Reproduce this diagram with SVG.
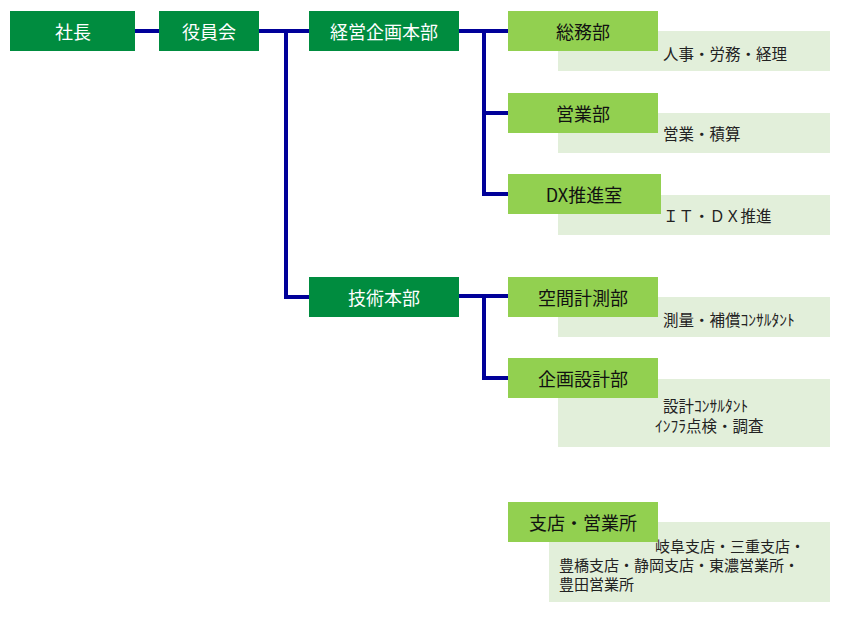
<svg xmlns="http://www.w3.org/2000/svg" width="848" height="621" viewBox="0 0 848 621">
<style>
.dk{fill:#008C3F}
.lt{fill:#92D050}
.ds{fill:#E2EFDA}
.wt{fill:#FFFFFF;font-family:"Noto Sans CJK JP","Noto Sans",sans-serif;font-size:18px;text-anchor:middle;dominant-baseline:central}
.bt{fill:#111111;font-family:"Noto Sans CJK JP","Noto Sans",sans-serif;font-size:18px;text-anchor:middle;dominant-baseline:central}
.tx{fill:#222222;font-family:"Noto Sans CJK JP","Noto Sans",sans-serif;font-size:15.5px;dominant-baseline:central}
.sm{font-size:15px}
.ln{stroke:#000099;stroke-width:4;fill:none}
</style>
<rect width="848" height="621" fill="#FFFFFF"/>
<g id="connectors">
<path class="ln" d="M135 31H159"/>
<path class="ln" d="M259 31H309"/>
<path class="ln" d="M286 31V297H309"/>
<path class="ln" d="M459 31H508"/>
<path class="ln" d="M484 31V194H508"/>
<path class="ln" d="M484 113H508"/>
<path class="ln" d="M459 296H508"/>
<path class="ln" d="M484 296V378H508"/>
</g>
<g id="shacho"><rect class="dk" x="10" y="11" width="125" height="40"/><text class="wt" x="73" y="31">社長</text></g>
<g id="yakuinkai"><rect class="dk" x="159" y="11" width="100" height="40"/><text class="wt" x="209" y="31">役員会</text></g>
<g id="keiei"><rect class="dk" x="309" y="11" width="150" height="40"/><text class="wt" x="384" y="31">経営企画本部</text></g>
<g id="gijutsu"><rect class="dk" x="309" y="277" width="150" height="40"/><text class="wt" x="384" y="297">技術本部</text></g>
<g id="somu"><rect class="ds" x="558" y="31" width="272" height="40"/><rect class="lt" x="508" y="11" width="150" height="40"/><text class="bt" x="583" y="31">総務部</text><text class="tx" x="663" y="53">人事・労務・経理</text></g>
<g id="eigyo"><rect class="ds" x="558" y="113" width="272" height="40"/><rect class="lt" x="508" y="93" width="150" height="40"/><text class="bt" x="583" y="113">営業部</text><text class="tx" x="663" y="133">営業・積算</text></g>
<g id="dx"><rect class="ds" x="558" y="195" width="272" height="40"/><rect class="lt" x="508" y="174" width="153" height="40"/><text class="bt" x="584" y="194">DX推進室</text><text class="tx" x="663" y="215">ＩＴ・ＤＸ推進</text></g>
<g id="kukan"><rect class="ds" x="558" y="297" width="272" height="40"/><rect class="lt" x="508" y="277" width="150" height="40"/><text class="bt" x="583" y="297">空間計測部</text><text class="tx" x="663" y="319">測量・補償ｺﾝｻﾙﾀﾝﾄ</text></g>
<g id="kikaku"><rect class="ds" x="558" y="379" width="272" height="68"/><rect class="lt" x="508" y="358" width="150" height="40"/><text class="bt" x="583" y="378">企画設計部</text><text class="tx" x="663" y="405">設計ｺﾝｻﾙﾀﾝﾄ</text><text class="tx" x="655" y="425">ｲﾝﾌﾗ点検・調査</text></g>
<g id="shiten"><rect class="ds" x="549" y="522" width="281" height="80"/><rect class="lt" x="508" y="502" width="150" height="40"/><text class="bt" x="583" y="522">支店・営業所</text><text class="tx sm" x="655" y="545">岐阜支店・三重支店・</text><text class="tx sm" x="559" y="564">豊橋支店・静岡支店・東濃営業所・</text><text class="tx sm" x="559" y="583">豊田営業所</text></g>
</svg>
